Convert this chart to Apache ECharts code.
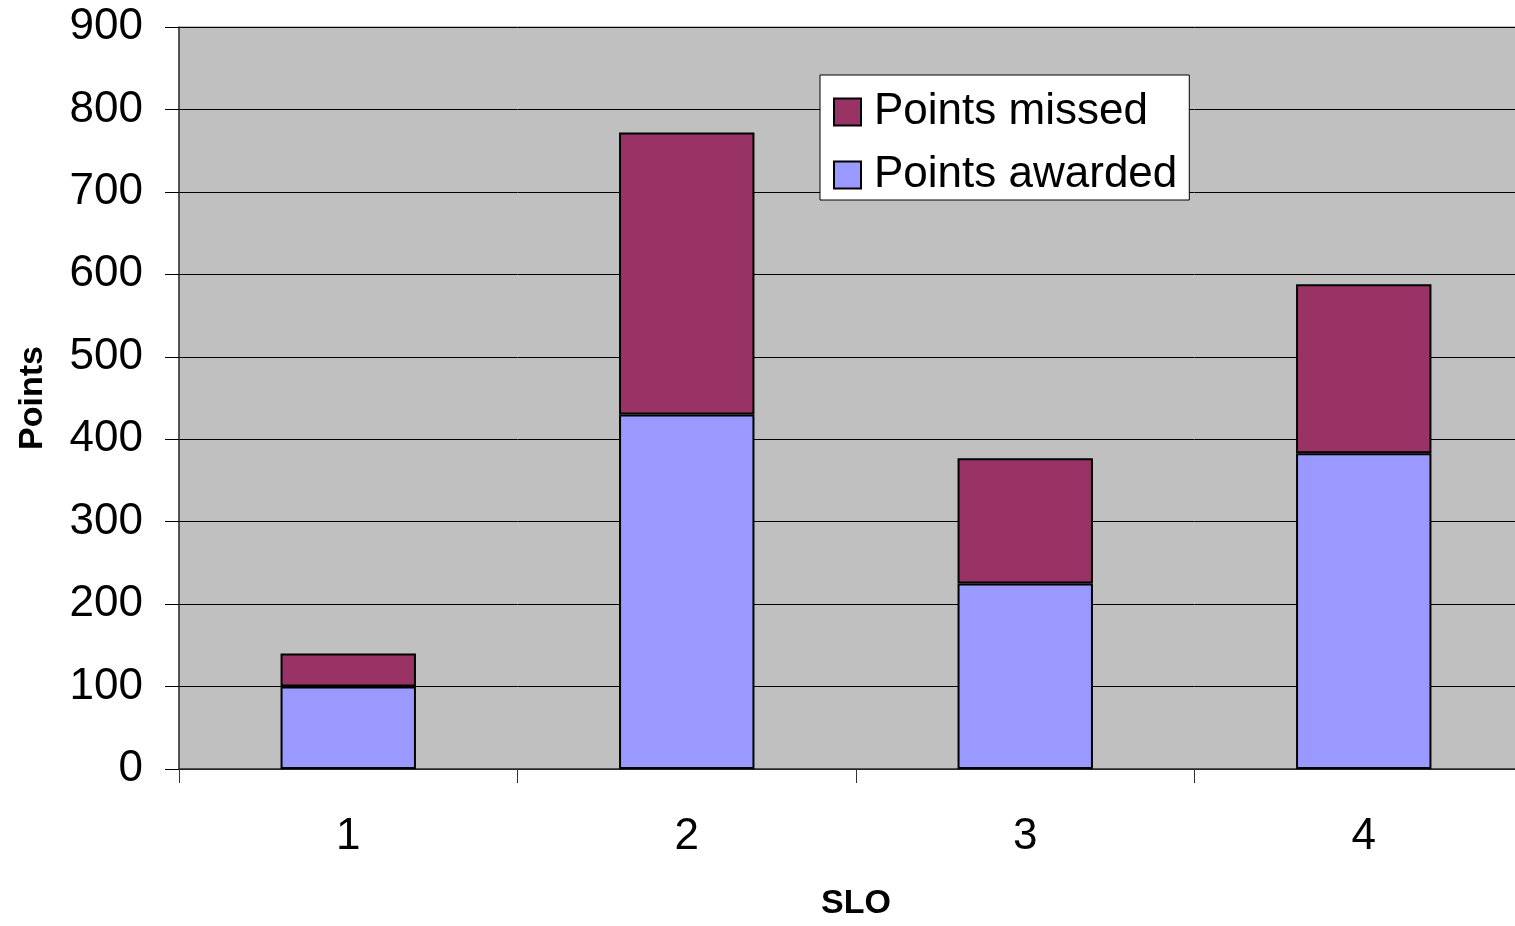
<!DOCTYPE html>
<html>
<head>
<meta charset="utf-8">
<script src="https://cdn.jsdelivr.net/npm/echarts@6/dist/echarts.min.js"></script>
<style>
html,body{margin:0;padding:0;background:#fff;overflow:hidden;width:1515px;height:926px;}
#c{width:1533px;height:926px;}
</style>
</head>
<body>
<div id="c"></div>
<script>
var categories = ['1', '2', '3', '4'];
var pointsAwarded = [100, 430, 225, 383];
var pointsMissed = [40, 342, 152, 205];
var yTicks = [0, 100, 200, 300, 400, 500, 600, 700, 800, 900];

var chart = echarts.init(document.getElementById('c'));
var font = 'Arial, "Liberation Sans", sans-serif';
chart.setOption({
  animation: false,
  backgroundColor: '#ffffff',
  grid: {
    left: 179, top: 27, bottom: 150, right: 0,
    show: true, backgroundColor: '#C0C0C0', borderColor: '#808080', borderWidth: 1
  },
  legend: {
    orient: 'vertical',
    left: 820, top: 75,
    backgroundColor: '#ffffff',
    borderColor: '#000000', borderWidth: 1,
    padding: [15, 12, 3, 13],
    itemWidth: 27, itemHeight: 27, itemGap: 19,
    icon: 'rect',
    data: ['Points missed', 'Points awarded'],
    textStyle: { fontFamily: font, fontSize: 44, color: '#000', lineHeight: 44, padding: [0, 0, 0, 8] }
  },
  xAxis: {
    type: 'category',
    data: categories,
    name: 'SLO',
    nameLocation: 'middle',
    nameGap: 118,
    nameTextStyle: { fontFamily: font, fontSize: 34, fontWeight: 'bold', color: '#000' },
    axisLine: { lineStyle: { color: '#333', width: 1.5 } },
    axisTick: { show: true, length: 14, lineStyle: { color: '#333' }, alignWithLabel: false },
    axisLabel: { fontFamily: font, fontSize: 44, color: '#000', margin: 46 },
    splitLine: { show: false }
  },
  yAxis: {
    type: 'value',
    min: 0, max: 900, interval: 100,
    name: 'Points',
    nameLocation: 'middle',
    nameGap: 129,
    nameTextStyle: { fontFamily: font, fontSize: 34, fontWeight: 'bold', color: '#000' },
    axisLine: { show: true, lineStyle: { color: '#333', width: 1.5 } },
    axisTick: { show: true, length: 14, lineStyle: { color: '#000' } },
    axisLabel: {
      fontFamily: font, fontSize: 44, color: '#000', margin: 36,
      formatter: function (v) { return yTicks.indexOf(v) >= 0 ? String(v) : ''; }
    },
    splitLine: { show: true, lineStyle: { color: '#000', width: 1 } }
  },
  series: [
    {
      name: 'Points awarded', type: 'bar', stack: 'total', barWidth: '40%',
      data: pointsAwarded,
      itemStyle: { color: '#9999FF', borderColor: '#000', borderWidth: 2 }
    },
    {
      name: 'Points missed', type: 'bar', stack: 'total', barWidth: '40%',
      data: pointsMissed,
      itemStyle: { color: '#993366', borderColor: '#000', borderWidth: 2 }
    }
  ]
});
</script>
</body>
</html>
